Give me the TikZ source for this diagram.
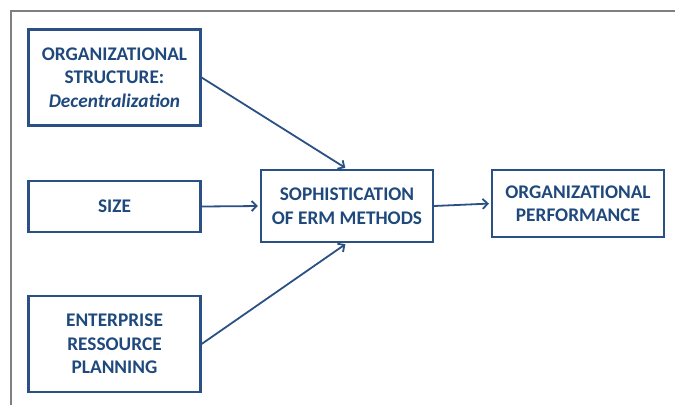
\documentclass[tikz,border=0pt]{standalone}
\usepackage{fontspec}
\setmainfont{Carlito}
\usetikzlibrary{arrows.meta}
\definecolor{txtblue}{HTML}{1F497D}
\definecolor{boxblue}{HTML}{2B5084}
\definecolor{framegray}{HTML}{808080}
\tikzset{
  factor/.style={draw=boxblue,line width=2.2bp,minimum width=172bp,inner sep=0pt,
    align=center,text=txtblue,font=\fontsize{19.3bp}{23.5bp}\selectfont\bfseries},
  link/.style={draw=boxblue,line width=1.8bp,-{Straight Barb[length=5bp,width=10bp]},shorten >=2bp}
}
\begin{document}
\begin{tikzpicture}[x=1bp,y=-1bp]
\useasboundingbox (0,0) rectangle (675,405);
% frame
\draw[framegray,line width=1.4bp] (11,405) -- (11,11) -- (675,11);
% factors
\node[factor,minimum height=96bp] (struct) at (114.5,77.5) {ORGANIZATIONAL\\STRUCTURE:\\\textit{Decentralization}};
\node[factor,minimum height=51bp] (size) at (114.5,206.5) {SIZE};
\node[factor,minimum height=96bp] (erp) at (114.5,344) {ENTERPRISE\\RESSOURCE\\PLANNING};
\node[factor,minimum height=72bp] (erm) at (347,206) {SOPHISTICATION\\OF ERM METHODS};
\node[factor,minimum height=67bp] (perf) at (578,203.5) {ORGANIZATIONAL\\PERFORMANCE};
% links
\draw[link] (struct.east) -- (erm.north);
\draw[link] (size.east) -- (erm.west);
\draw[link] (erp.east) -- (erm.south);
\draw[link] (erm.east) -- (perf.west);
\end{tikzpicture}
\end{document}
